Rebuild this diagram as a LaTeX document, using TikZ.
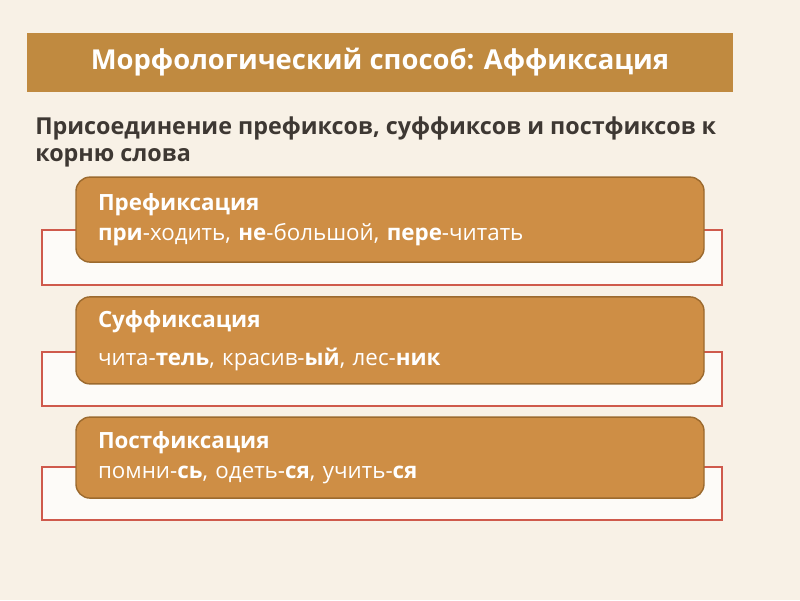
\documentclass[tikz,border=0pt]{standalone}
\usepackage{fontspec}
\setmainfont{Open Sans}
\definecolor{paper}{HTML}{F8F1E6}
\definecolor{bar}{HTML}{C08A40}
\definecolor{card}{HTML}{CE8E45}
\definecolor{cardline}{HTML}{9C6A2E}
\definecolor{frame}{HTML}{CF5A4C}
\definecolor{ink}{HTML}{3E3833}

\begin{document}
\begin{tikzpicture}[
    titlebar/.style={rectangle, fill=bar, minimum width=17.65cm, minimum height=1.475cm, text=white, font=\bfseries\fontsize{19.5}{22}\selectfont},
    backbox/.style={draw=frame, line width=1.2pt, rectangle, fill=white!70!paper, minimum width=17cm},
    cardbox/.style={draw=cardline, line width=1pt, rectangle, rounded corners=0.35cm, fill=card, minimum width=15.7cm, text width=14.6cm, align=left, text=white, font=\fontsize{15.9}{21.3}\selectfont}
]
    \fill[paper] (0,0) rectangle (20,15);
    \draw

    %% titolo
    (9.5,13.44)node[titlebar](titolo){Морфологический способ: Аффиксация}
    (0.875,11.46)node[anchor=180, inner sep=0pt, align=left, text=ink, font=\bfseries\fontsize{16.6}{19.2}\selectfont](sotto){Присоединение префиксов, суффиксов и постфиксов к\\корню слова}

    %% schede
    (9.55,8.56)node[backbox, minimum height=1.375cm](f1){}
    (9.75,9.51)node[cardbox, minimum height=2.125cm](c1){\textbf{Префиксация}\\\textbf{при}-ходить, \textbf{не}-большой, \textbf{пере}-читать}

    (9.55,5.53)node[backbox, minimum height=1.35cm](f2){}
    (9.75,6.49)node[cardbox, minimum height=2.175cm](c2){\textbf{Суффиксация}\\[6pt]чита-\textbf{тель}, красив-\textbf{ый}, лес-\textbf{ник}}

    (9.55,2.66)node[backbox, minimum height=1.325cm](f3){}
    (9.75,3.56)node[cardbox, minimum height=2.025cm](c3){\textbf{Постфиксация}\\помни-\textbf{сь}, одеть-\textbf{ся}, учить-\textbf{ся}}

    ;
\end{tikzpicture}
\end{document}
